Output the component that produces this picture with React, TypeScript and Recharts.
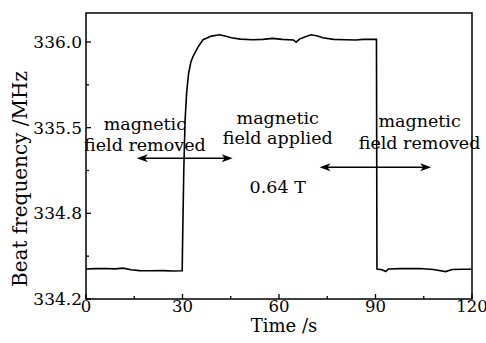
import React from "react";
import {
  ComposedChart,
  Line,
  XAxis,
  YAxis,
  ReferenceArea,
  ReferenceLine,
  ReferenceDot,
  Label,
} from "recharts";

const times = [
  0, 3, 6, 9, 11.5, 14, 16.7, 20, 24, 27, 29.9, 30.1, 30.4, 30.8, 31.3, 31.9, 32.6, 33.3, 34.8, 36.4,
  39, 41.5, 43.5, 45.2, 48, 51.8, 55, 58, 61, 64.5, 65.3, 66.4, 68, 70, 72, 73.6, 77, 80.8, 84, 86,
  90.3, 90.45, 92, 93.2, 94, 98, 103.6, 108, 111.8, 113.8, 117, 120,
];
const beatFreq = [
  334.41, 334.413, 334.414, 334.411, 334.416, 334.405, 334.399, 334.398, 334.399, 334.396, 334.398,
  334.7, 335.1, 335.45, 335.65, 335.78, 335.86, 335.9, 335.964, 336.016, 336.041, 336.051, 336.04,
  336.03, 336.02, 336.016, 336.018, 336.025, 336.018, 336.014, 335.999, 336.02, 336.035, 336.051,
  336.042, 336.03, 336.018, 336.016, 336.014, 336.018, 336.018, 334.41, 334.405, 334.392, 334.41,
  334.413, 334.414, 334.407, 334.392, 334.407, 334.408, 334.408,
];

const xTicks = [0, 15, 30, 45, 60, 75, 90, 105, 120];
const xMajor = [0, 30, 60, 90, 120];
const yTicks = [334.2, 334.5, 334.8, 335.1, 335.4, 335.7, 336.0];
const yTickLabels: Record<string, string> = {
  "334.2": "334.2",
  "334.8": "334.8",
  "335.4": "335.5",
  "336.0": "336.0",
};

const FONT = "'DejaVu Serif', 'Liberation Serif', serif";

const data = times.map((t, i) => ({ t, v: beatFreq[i] }));

const XTick = (props: any) => {
  const { x, y, payload } = props;
  const major = xMajor.includes(payload.value);
  return (
    <g>
      <line x1={x} y1={y} x2={x} y2={y - (major ? 5 : 3)} stroke="#000" strokeWidth={1.3} />
      {major && (
        <text x={x} y={y + 13} textAnchor="middle" fontFamily={FONT} fontSize={16.5} fill="#000">
          {payload.value}
        </text>
      )}
    </g>
  );
};

const YTick = (props: any) => {
  const { x, y, payload } = props;
  const key = Number(payload.value).toFixed(1);
  const label = yTickLabels[key];
  return (
    <g>
      <line x1={x} y1={y} x2={x + (label ? 5 : 3)} y2={y} stroke="#000" strokeWidth={1.3} />
      {label && (
        <text x={x - 4} y={y} dy="0.36em" textAnchor="end" fontFamily={FONT} fontSize={17} fill="#000">
          {label}
        </text>
      )}
    </g>
  );
};

const Arrow = (props: any) => {
  const { x1, y1, x2, y2 } = props;
  const L = 11;
  const H = 4;
  const left = Math.min(x1, x2);
  const right = Math.max(x1, x2);
  const y = y1;
  return (
    <g>
      <line x1={left + 4} y1={y} x2={right - 4} y2={y2} stroke="#000" strokeWidth={1.5} />
      <polygon points={`${left},${y} ${left + L},${y - H} ${left + L - 3},${y} ${left + L},${y + H}`} fill="#000" />
      <polygon points={`${right},${y} ${right - L},${y - H} ${right - L + 3},${y} ${right - L},${y + H}`} fill="#000" />
    </g>
  );
};

const annotations = [
  { t: 18.3, v: 335.43, text: "magnetic" },
  { t: 18.3, v: 335.283, text: "field removed" },
  { t: 59.6, v: 335.472, text: "magnetic" },
  { t: 59.6, v: 335.332, text: "field applied" },
  { t: 59.6, v: 334.989, text: "0.64 T" },
  { t: 103.7, v: 335.446, text: "magnetic" },
  { t: 103.7, v: 335.292, text: "field removed" },
];

const arrows = [
  { t1: 15.8, t2: 45.6, v: 335.185 },
  { t1: 72.6, t2: 107.3, v: 335.122 },
];

export default function App() {
  return (
    <div style={{ position: "absolute", left: 0, top: 0, width: 486, height: 343, background: "#fff" }}>
      <ComposedChart width={486} height={343} data={data} margin={{ top: 13, right: 14, left: 0, bottom: 0 }}>
        <XAxis
          dataKey="t"
          type="number"
          domain={[0, 120]}
          ticks={xTicks}
          tick={<XTick />}
          tickLine={false}
          axisLine={false}
          tickSize={0}
          tickMargin={0}
          height={44}
          interval={0}
        >
          <Label
            content={(p: any) => {
              const vb = p.viewBox || {};
              return (
                <text x={vb.x + vb.width / 2 + 5} y={vb.y + 33} textAnchor="middle" fontFamily={FONT} fontSize={18} fill="#000">
                  Time /s
                </text>
              );
            }}
          />
        </XAxis>
        <YAxis
          type="number"
          domain={[334.2, 336.203]}
          ticks={yTicks}
          tick={<YTick />}
          tickLine={false}
          axisLine={false}
          tickSize={0}
          tickMargin={0}
          width={86}
          interval={0}
          allowDataOverflow
        >
          <Label
            content={(p: any) => {
              const vb = p.viewBox || {};
              const cx = vb.x + 27;
              const cy = vb.y + vb.height / 2 + 23;
              return (
                <text
                  x={cx}
                  y={cy}
                  transform={`rotate(-90 ${cx} ${cy})`}
                  textAnchor="middle"
                  fontFamily={FONT}
                  fontSize={20}
                  fill="#000"
                >
                  Beat frequency /MHz
                </text>
              );
            }}
          />
        </YAxis>
        <ReferenceArea x1={0} x2={120} y1={334.2} y2={336.203} fill="none" stroke="#000" strokeWidth={1.5} ifOverflow="visible" />
        <Line
          type="linear"
          dataKey="v"
          stroke="#000"
          strokeWidth={1.6}
          dot={false}
          isAnimationActive={false}
        />
        {arrows.map((a, i) => (
          <ReferenceLine
            key={"a" + i}
            segment={[
              { x: a.t1, y: a.v },
              { x: a.t2, y: a.v },
            ]}
            ifOverflow="visible"
            shape={<Arrow />}
          />
        ))}
        {annotations.map((a, i) => (
          <ReferenceDot
            key={"t" + i}
            x={a.t}
            y={a.v}
            ifOverflow="visible"
            shape={(p: any) => (
              <text x={p.cx} y={p.cy} dy="0.36em" textAnchor="middle" fontFamily={FONT} fontSize={17.5} fill="#000">
                {a.text}
              </text>
            )}
          />
        ))}
      </ComposedChart>
    </div>
  );
}
